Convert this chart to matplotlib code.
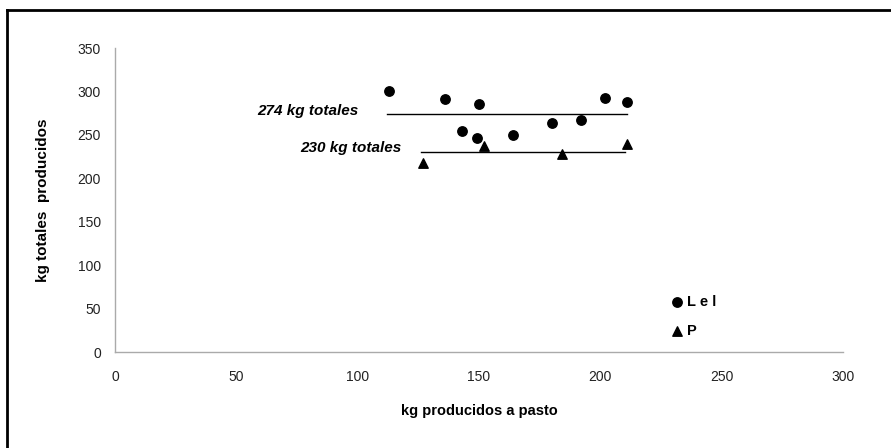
import matplotlib
matplotlib.use("Agg")
import matplotlib.pyplot as plt
from matplotlib.lines import Line2D

# Data
lel_x = [113, 136, 150, 143, 149, 164, 180, 192, 202, 211]
lel_y = [300, 291, 286, 255, 246, 250, 264, 267, 293, 288]
p_x = [127, 152, 184, 211]
p_y = [218, 237, 228, 239]
mean_lel = 274
mean_p = 230
lel_range = [112, 211]
p_range = [126, 210]
xticks = [0, 50, 100, 150, 200, 250, 300]
yticks = [0, 50, 100, 150, 200, 250, 300, 350]

plt.rcParams['font.family'] = ['Liberation Sans', 'DejaVu Sans']

fig = plt.figure(figsize=(8.91, 4.48), dpi=100)
ax = fig.add_axes([115/891, 1-352/448, (843-115)/891, (352-48)/448])

ax.plot(lel_range, [mean_lel, mean_lel], color='black', lw=1.0)
ax.plot(p_range, [mean_p, mean_p], color='black', lw=1.0)
ax.scatter(lel_x, lel_y, marker='o', s=46, color='black', label='L e l', zorder=3)
ax.scatter(p_x, p_y, marker='^', s=46, color='black', label='P', zorder=3)

ax.text(lel_range[0] - 11.5, mean_lel + 3, '274 kg totales', ha='right', va='center',
        fontsize=11, fontweight='bold', fontstyle='italic')
ax.text(p_range[0] - 8, mean_p + 5, '230 kg totales', ha='right', va='center',
        fontsize=11, fontweight='bold', fontstyle='italic')

ax.set_xlim(0, 300)
ax.set_ylim(0, 350)
ax.set_xticks(xticks)
ax.set_yticks(yticks)
ax.tick_params(length=0, labelsize=10, colors='#222222')
ax.tick_params(axis='x', pad=13)
ax.tick_params(axis='y', pad=10)
for s in ['top', 'right']:
    ax.spines[s].set_visible(False)
for s in ['left', 'bottom']:
    ax.spines[s].set_color('#aaaaaa')
    ax.spines[s].set_linewidth(1.0)

ax.set_xlabel('kg producidos a pasto', fontsize=10.5, fontweight='bold', labelpad=14)
ax.set_ylabel('kg totales  producidos', fontsize=11, fontweight='bold', labelpad=20)

leg = ax.legend(loc='upper left', bbox_to_anchor=((664-115)/728, (352-289)/304),
                frameon=False, fontsize=10.5, handletextpad=0.15, labelspacing=1.05,
                handlelength=1.0, borderaxespad=0)
for t in leg.get_texts():
    t.set_fontweight('bold')

# outer frame (top and left visible)
fig.add_artist(Line2D([7/891, 7/891], [0, 1-10/448], transform=fig.transFigure, color='black', lw=2))
fig.add_artist(Line2D([7/891, 1], [1-10/448, 1-10/448], transform=fig.transFigure, color='black', lw=2))

fig.savefig('out.png', dpi=100)
